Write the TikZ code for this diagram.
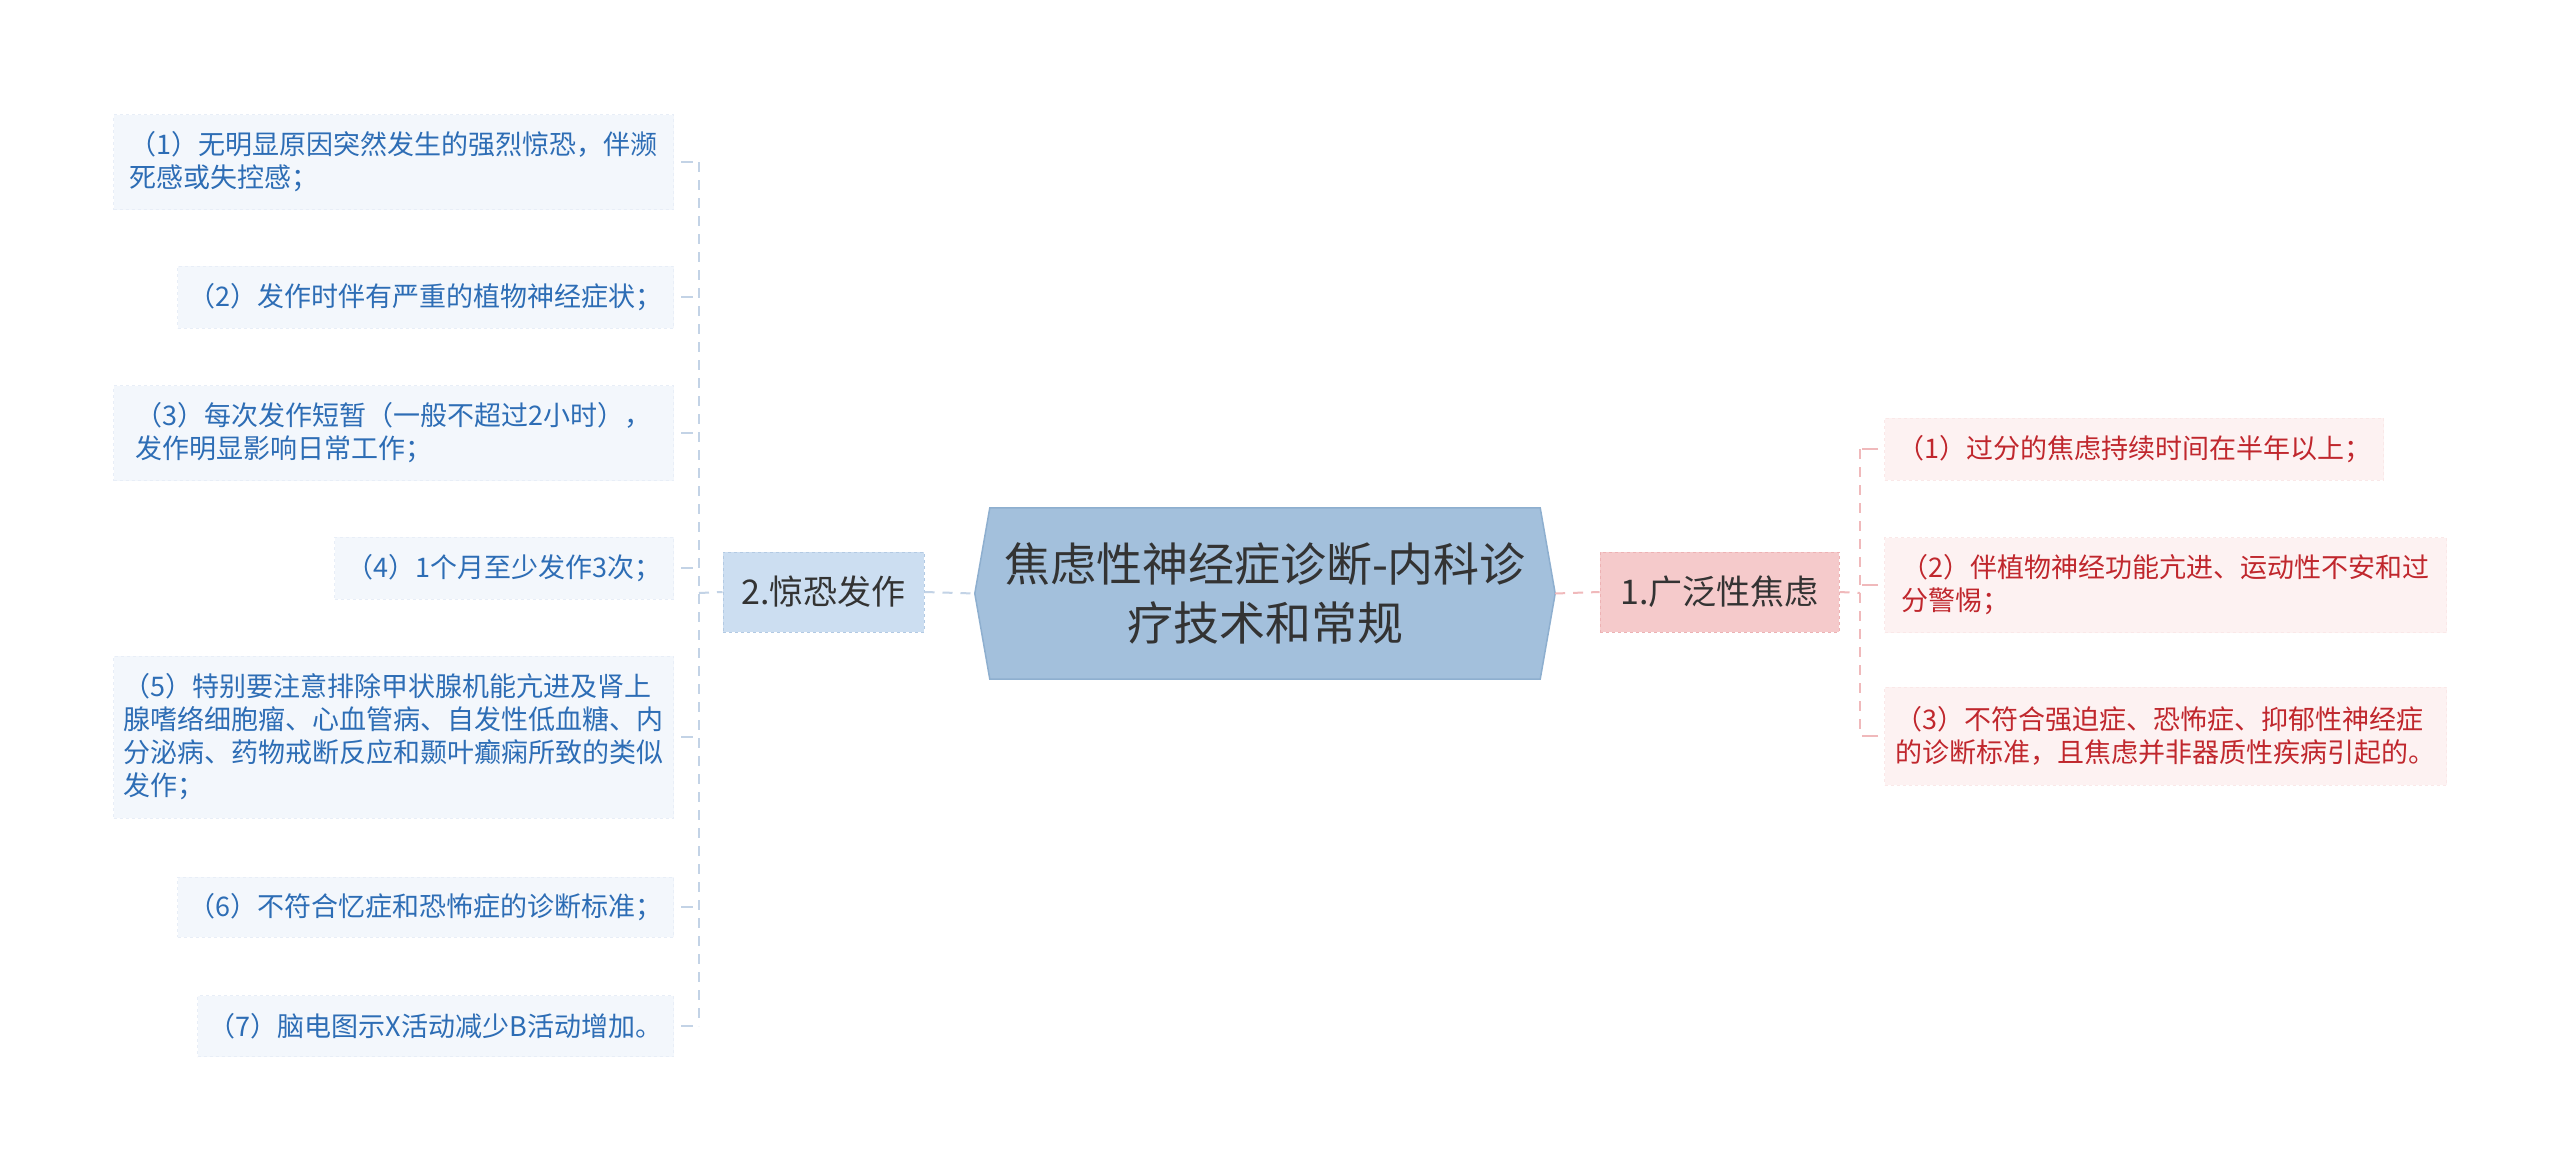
\documentclass[tikz,border=0pt]{standalone}
\usepackage{fontspec}
\setmainfont{Noto Sans CJK SC}
\usetikzlibrary{backgrounds}
\definecolor{lfill}{HTML}{F3F7FC}
\definecolor{lborder}{HTML}{E8EEF7}
\definecolor{ltext}{HTML}{2D6DB5}
\definecolor{rfill}{HTML}{FDF2F2}
\definecolor{rborder}{HTML}{FAE8E8}
\definecolor{rtext}{HTML}{C0272D}
\definecolor{pfill}{HTML}{CCDEF1}
\definecolor{pborder}{HTML}{B3CAE3}
\definecolor{gfill}{HTML}{F5CACB}
\definecolor{gborder}{HTML}{EDB2B4}
\definecolor{cfill}{HTML}{A3C0DC}
\definecolor{cborder}{HTML}{8EAFCF}
\definecolor{dark}{HTML}{333333}
\definecolor{lcon}{HTML}{C3D3E6}
\definecolor{rcon}{HTML}{F0B9BB}
\newcommand\myitemfont{\fontsize{27}{33}\selectfont}
\newcommand\mycatfont{\fontsize{34}{40}\selectfont}
\newcommand\mycenfont{\fontsize{46}{59}\selectfont}
\begin{document}
\begin{tikzpicture}[x=1pt,y=-1pt,
  litem/.style={fill=lfill, draw=lborder, dashed, line width=1pt, text=ltext, font=\myitemfont, align=left, inner sep=0pt, anchor=east},
  ritem/.style={fill=rfill, draw=rborder, dashed, line width=1pt, text=rtext, font=\myitemfont, align=left, inner sep=0pt, anchor=west},
  catbox/.style={line width=1pt, dashed, text=dark, font=\mycatfont, inner sep=0pt, minimum height=80pt},
  lline/.style={draw=lcon, line width=2pt, dash pattern=on 10pt off 8pt},
  rline/.style={draw=rcon, line width=2pt, dash pattern=on 10pt off 8pt}]
\begin{scope}[on background layer]
\fill[white] (0,0) rectangle (2560,1170);
\end{scope}
\useasboundingbox (0,0) rectangle (2560,1170);

% central node
\node[minimum width=580pt, minimum height=171pt, inner sep=0pt, font=\mycenfont, text=dark, align=center] (C) at (1265,593.5) {焦虑性神经症诊断-内科诊\\疗技术和常规};
\begin{scope}[on background layer]
\filldraw[fill=cfill, draw=cborder, line width=1.5pt] (C.west) -- ([xshift=15pt]C.north west) -- ([xshift=-15pt]C.north east) -- (C.east) -- ([xshift=-15pt]C.south east) -- ([xshift=15pt]C.south west) -- cycle;
\end{scope}

% category nodes
\node[catbox, fill=pfill, draw=pborder, minimum width=201pt] (P) at (823.5,592) {2.惊恐发作};
\node[catbox, fill=gfill, draw=gborder, minimum width=239pt] (G) at (1719.5,592) {1.广泛性焦虑};

% left items
\node[litem, minimum width=560pt, minimum height=95pt] (L1) at (674,162) {（1）无明显原因突然发生的强烈惊恐，伴濒\\死感或失控感；};
\node[litem, minimum width=496pt, minimum height=62pt] (L2) at (674,297) {（2）发作时伴有严重的植物神经症状；};
\node[litem, minimum width=560pt, minimum height=95pt] (L3) at (674,433) {（3）每次发作短暂（一般不超过2小时），\\发作明显影响日常工作；};
\node[litem, minimum width=339pt, minimum height=62pt] (L4) at (674,568) {（4）1个月至少发作3次；};
\node[litem, minimum width=560pt, minimum height=162pt] (L5) at (674,737) {（5）特别要注意排除甲状腺机能亢进及肾上\\腺嗜络细胞瘤、心血管病、自发性低血糖、内\\分泌病、药物戒断反应和颞叶癫痫所致的类似\\发作；};
\node[litem, minimum width=496pt, minimum height=60pt] (L6) at (674,907) {（6）不符合忆症和恐怖症的诊断标准；};
\node[litem, minimum width=476pt, minimum height=61pt] (L7) at (674,1026) {（7）脑电图示X活动减少B活动增加。};

% right items
\node[ritem, minimum width=499pt, minimum height=62pt] (R1) at (1884,449) {（1）过分的焦虑持续时间在半年以上；};
\node[ritem, minimum width=562pt, minimum height=95pt] (R2) at (1884,585) {（2）伴植物神经功能亢进、运动性不安和过\\分警惕；};
\node[ritem, minimum width=562pt, minimum height=98pt] (R3) at (1884,736) {（3）不符合强迫症、恐怖症、抑郁性神经症\\的诊断标准，且焦虑并非器质性疾病引起的。};

% connectors
\coordinate (lb) at (699,593);
\coordinate (rb) at (1860,593);
\draw[lline] (lb) -- (P.west);
\draw[lline] (P.east) -- (C.west);
\draw[rline] (C.east) -- (G.west);
\draw[rline] (G.east) -- (rb);
\draw[lline] (L1.east -| lb) -- (L7.east -| lb);
\foreach \i in {1,...,7} {
  \draw[lline, dash pattern=on 12pt off 30pt] ([xshift=7pt]L\i.east) -- (L\i.east -| lb);
}
\draw[rline] (R1.west -| rb) -- (R3.west -| rb);
\foreach \i in {1,2,3} {
  \draw[rline, dash pattern=on 16pt off 30pt] ([xshift=-6pt]R\i.west) -- (R\i.west -| rb);
}
\end{tikzpicture}
\end{document}
